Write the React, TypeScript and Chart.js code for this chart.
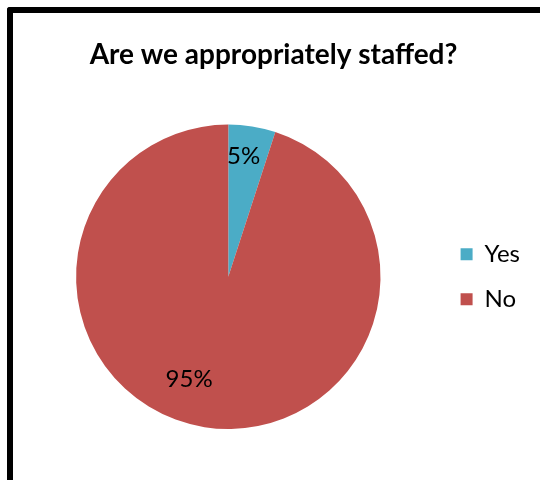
import React, { useEffect, useRef } from "react";
import { Chart, registerables } from "chart.js";

Chart.register(...registerables);

const TITLE = "Are we appropriately staffed?";
const CATEGORIES = ["Yes", "No"];
const VALUES = [5, 95];
const COLORS = ["#4BACC6", "#C0504D"];
// label placement inside each slice: fraction along slice angle, fraction of radius
const LABEL_ANGLE_FRAC = [0.4, 0.535];
const LABEL_RADIUS_FRAC = [0.8, 0.72];

const FONT = "Lato, 'Open Sans', sans-serif";

const sliceLabels = {
  id: "sliceLabels",
  afterDatasetsDraw(chart: any) {
    const ctx = chart.ctx;
    const meta = chart.getDatasetMeta(0);
    const data = chart.data.datasets[0].data as number[];
    const total = data.reduce((a, b) => a + b, 0);
    ctx.save();
    ctx.font = `24px ${FONT}`;
    ctx.fillStyle = "#000";
    ctx.textAlign = "center";
    ctx.textBaseline = "middle";
    meta.data.forEach((arc: any, i: number) => {
      const p = arc.getProps(["x", "y", "startAngle", "endAngle", "outerRadius"], true);
      const a = p.startAngle + (p.endAngle - p.startAngle) * LABEL_ANGLE_FRAC[i];
      const r = p.outerRadius * LABEL_RADIUS_FRAC[i];
      const txt = Math.round((data[i] / total) * 100) + "%";
      ctx.fillText(txt, p.x + Math.cos(a) * r, p.y + Math.sin(a) * r);
    });
    ctx.restore();
  },
};

export default function App() {
  const ref = useRef<HTMLCanvasElement>(null);
  useEffect(() => {
    if (!ref.current) return;
    const chart = new Chart(ref.current, {
      type: "pie",
      data: {
        labels: CATEGORIES,
        datasets: [
          {
            data: VALUES,
            backgroundColor: COLORS,
            borderWidth: 0,
          },
        ],
      },
      options: {
        animation: false,
        responsive: false,
        layout: { padding: { left: 17, right: 10, top: 0, bottom: 51 } },
        plugins: {
          title: {
            display: true,
            text: TITLE,
            color: "#000",
            font: { family: FONT, size: 28, weight: "bold" },
            padding: { top: 38, bottom: 53 },
          },
          legend: {
            position: "right",
            fullSize: false,
            labels: {
              color: "#000",
              font: { family: FONT, size: 24, lineHeight: 1.083 },
              boxWidth: 12,
              boxHeight: 12,
              padding: 21,
            },
          },
          tooltip: { enabled: false },
        },
      },
      plugins: [sliceLabels],
    });
    return () => chart.destroy();
  }, []);
  return (
    <div style={{ position: "absolute", left: 0, top: 0, width: 540, height: 480, background: "#fff", overflow: "hidden" }}>
      <canvas ref={ref} width={540} height={480} style={{ position: "absolute", left: 0, top: 0 }} />
      <div
        style={{
          position: "absolute",
          left: 7,
          top: 7,
          width: 560,
          height: 500,
          borderTop: "6px solid #000",
          borderLeft: "6px solid #000",
          borderTopLeftRadius: 3,
        }}
      />
    </div>
  );
}
